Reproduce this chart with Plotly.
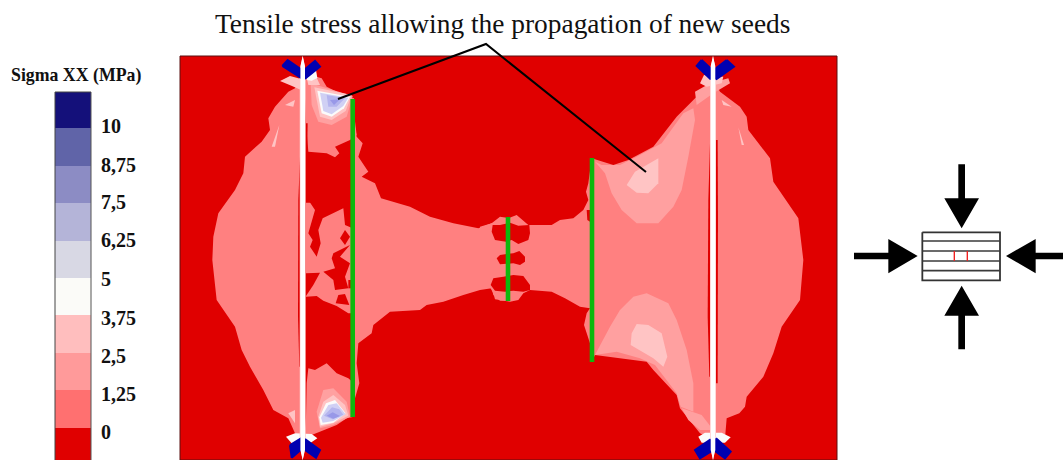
import plotly.graph_objects as go

# --- chart text and legend data ---
title_text = "Tensile stress allowing the propagation of new seeds"
legend_title = "Sigma XX (MPa)"
legend_labels = ["10", "8,75", "7,5", "6,25", "5", "3,75", "2,5", "1,25", "0"]
legend_label_y = [126, 165, 202, 240, 279, 318, 356, 394, 432]
legend_edges = [92, 128, 166, 203, 241, 278, 315, 353, 390, 428, 460]
legend_colors = ["#14107A", "#6064A8", "#8C8CC4", "#B4B4D8", "#D8D8E4",
                 "#FBFBF8", "#FFBEBE", "#FF9A9A", "#FF7070", "#E00000"]

RED = "#E00000"; L1 = "#FF8080"; L2 = "#FFA0A0"; L3 = "#FFC4C4"
WH = "#FBFBFB"; LAV = "#D0D0F4"; PER = "#B4B4EE"; BLU = "#9898E8"; DBL = "#0000B0"

# --- stress regions, left crop (x=180+u/3, y=50+v/3) ---
left_wing = [(368,60),(345,115),(325,125),(285,170),(265,205),(270,240),(245,275),(195,320),(190,370),(165,420),(115,490),(100,560),(97,630),(110,750),(165,830),(185,900),(210,950),(250,1020),(280,1080),(325,1105),(345,1150),(368,1170)]
top_lobe = [(372,70),(425,85),(440,110),(490,135),(522,145),(522,190),(530,255),(510,270),(465,290),(478,310),(465,322),(440,310),(385,305),(378,220)]
bot_lobe = [(385,955),(405,960),(440,940),(470,970),(505,985),(522,1000),(522,1100),(500,1105),(470,1125),(430,1140),(395,1155),(405,1170),(372,1170),(378,1100),(380,1000)]
mosaic = [(378,458),(518,458),(522,790),(505,790),(470,768),(430,752),(410,738),(378,740)]
shards = [
    [(385,450),(405,480),(385,550),(398,570),(390,590),(410,620),(422,580),(415,540),(428,505),(490,475),(495,525),(518,535),(518,450)],
    [(480,565),(495,540),(510,560),(495,585)],
    [(460,610),(510,585),(480,620),(510,640),(495,680),(505,715),(465,720),(460,690),(430,665),(465,655),(455,625)],
    [(467,760),(475,735),(495,732),(508,765)],
    [(378,670),(420,668),(400,705),(378,738)],
    [(505,690),(518,690),(518,715),(505,715)],
]
top_l2 = [(392,100),(455,120),(518,138),(500,200),(455,225),(415,215),(395,165)]
top_l3 = [(403,112),(515,135),(497,183),(455,210),(420,200)]
top_wh = [(412,122),(510,140),(492,175),(455,200),(425,190)]
top_lv = [(420,128),(505,143),(490,168),(455,193),(430,183)]
top_pr = [(440,135),(495,145),(470,170),(445,170)]
top_bl = [(450,150),(480,148),(462,165)]
bot_l2 = [(410,1085),(430,1020),(460,1015),(500,1055),(510,1100),(460,1125),(420,1135)]
bot_l3 = [(415,1100),(430,1055),(460,1035),(495,1065),(505,1097),(460,1120),(420,1130)]
bot_wh = [(418,1102),(438,1060),(465,1050),(497,1090),(460,1118),(422,1125)]
bot_lv = [(423,1103),(445,1065),(470,1060),(497,1093),(460,1113),(428,1118)]
bot_pr = [(432,1097),(456,1072),(478,1078),(490,1094),(458,1108)]
bot_bl = [(440,1097),(458,1087),(480,1098),(460,1106)]
left_cap_top = [[(300,93),(330,78),(363,87),(363,120),(336,108)], [(378,72),(405,72),(420,105),(385,105)]]
left_cap_white = [(385,62),(408,60),(412,84),(395,92),(380,90)]
left_cap_bot = [(318,1160),(345,1150),(395,1152),(412,1165),(390,1180),(335,1180)]
left_streaks = [[(315,165),(345,150),(340,170)],[(298,225),(285,290),(275,290)],[(325,1090),(345,1080),(345,1120)]]
left_arms = [[(307,48),(323,30),(363,58),(363,84)],[(375,58),(405,33),(420,50),(375,86)],
             [(330,1185),(360,1167),(362,1200),(335,1223)],[(375,1167),(420,1200),(408,1223),(375,1200)]]
left_slivers = [[(362,270),(355,450),(354,800),(358,950),(362,950),(362,270)],[(375,220),(383,220),(380,400),(375,400)]]

# --- band joining the two inner cracks (left crop) ---
band_left = [(518,190),(530,260),(548,280),(535,320),(565,365),(545,380),(585,400),(603,445),(690,470),(750,500),(820,520),(895,535),(935,520),(960,500),(990,505),(990,752),(960,752),(940,735),(935,715),(900,720),(850,735),(790,755),(740,765),(720,780),(630,785),(580,825),(575,850),(535,880),(530,940),(538,1000),(525,1045),(518,1100)]

# --- stress regions, right crop (x=480+u/3, y=50+v/3) ---
band_right = [(0,530),(85,505),(110,495),(145,525),(215,525),(240,510),(280,505),(310,480),(325,450),(318,425),(325,400),(335,325),(335,935),(330,880),(312,825),(320,790),(330,775),(300,770),(255,745),(215,725),(150,720),(130,730),(115,750),(90,755),(60,750),(45,748),(40,730),(30,712),(0,718)]
center_holes = [
    [(38,525),(35,545),(45,570),(78,575),(95,570),(115,582),(145,570),(150,550),(148,525),(115,527),(90,518),(60,525)],
    [(50,625),(60,615),(80,612),(100,610),(118,603),(135,620),(135,635),(120,645),(100,640),(60,643)],
    [(32,705),(40,685),(70,680),(100,675),(130,678),(150,705),(150,720),(130,725),(100,722),(75,725),(45,722)],
    [(320,480),(330,480),(330,515),(322,510)],
]
right_body = [(335,325),(400,345),(445,330),(520,290),(590,200),(640,150),(690,100),(700,90),(720,125),(780,170),(800,200),(805,240),(870,325),(880,395),(955,505),(970,630),(960,750),(905,830),(880,910),(850,980),(800,1040),(795,1070),(778,1090),(740,1105),(735,1165),(700,1170),(660,1150),(620,1100),(600,1075),(590,1035),(520,960),(500,935),(345,915),(335,935)]
right_up_l2 = [(345,335),(365,345),(420,345),(470,320),(545,280),(610,190),(640,175),(645,210),(625,320),(605,420),(580,470),(535,520),(470,520),(425,480),(395,430),(375,370)]
right_up_l3 = [(440,405),(465,365),(535,325),(535,400),(505,430),(470,428)]
right_lo_l2 = [(345,915),(410,905),(480,925),(525,945),(590,1030),(602,1070),(640,1085),(640,1000),(620,900),(590,810),(565,760),(500,730),(460,740),(420,780),(390,830),(360,890)]
right_lo_l3 = [(470,822),(505,825),(545,850),(562,920),(550,950),(520,925),(452,885),(455,850)]
right_extra_l2 = [[(645,125),(690,100),(745,85),(750,100),(700,130),(650,165)],
                  [(605,1075),(665,1095),(700,1140),(660,1140),(625,1110)]]
right_cap_top = [(660,100),(672,75),(730,80),(725,100),(680,110)]
right_cap_bot = [(655,1160),(675,1148),(725,1148),(752,1162),(735,1178),(665,1178)]
right_streaks = [[(725,150),(755,170),(730,165)],[(775,232),(792,285),(785,285)]]
right_arms = [[(665,30),(692,55),(692,88),(650,48)],[(740,30),(762,50),(708,88),(708,55)],
              [(692,1168),(692,1205),(660,1225),(645,1200)],[(708,1165),(752,1205),(735,1225),(708,1205)]]
right_slivers = [[(690,280),(685,450),(683,800),(688,980),(695,980),(695,280)],[(707,270),(713,270),(714,500),(713,1000),(707,1000)]]

# --- overlays in page units ---
panel = [(180,56),(837,56),(837,460),(180,460)]
white_lines_x = [302.7, 713]
cracks = {"x": [352.7, 508, 592], "top": [99, 217, 158], "bottom": [417, 301, 362]}
leader_x = [338, 486, 646]
leader_y = [99, 44, 172]

# --- loading schematic (x=850+u/3, y=155+v/3) ---
s_box = [(217,232),(450,232),(450,376),(217,376)]
s_lines = [258, 288, 318, 347]
s_red = [313, 352]
s_arrows = [
    [(325,28),(345,28),(345,130),(387,130),(335,220),(283,130),(325,130)],
    [(325,583),(345,583),(345,482),(387,482),(335,392),(283,482),(325,482)],
    [(12,293),(12,313),(115,313),(115,355),(203,303),(115,252),(115,293)],
    [(639,293),(639,313),(557,313),(557,355),(468,303),(557,252),(557,293)],
]

L = lambda p: [(180 + u / 3, 50 + v / 3) for u, v in p]
R = lambda p: [(480 + u / 3, 50 + v / 3) for u, v in p]
S = lambda p: [(850 + u / 3, 155 + v / 3) for u, v in p]

fig = go.Figure()

def poly(pts, color, line=None, lw=0):
    xs = [p[0] for p in pts] + [pts[0][0]]
    ys = [p[1] for p in pts] + [pts[0][1]]
    fig.add_trace(go.Scatter(x=xs, y=ys, mode="lines", fill="toself", fillcolor=color,
                             line=dict(color=line or color, width=lw if line else 0),
                             hoverinfo="skip", showlegend=False))

def seg(xs, ys, color, w):
    fig.add_trace(go.Scatter(x=xs, y=ys, mode="lines", line=dict(color=color, width=w),
                             hoverinfo="skip", showlegend=False))

# legend bar
fig.add_trace(go.Bar(x=[73] * len(legend_colors),
                     y=[legend_edges[i + 1] - legend_edges[i] for i in range(len(legend_colors))],
                     base=legend_edges[:-1], width=36, marker=dict(color=legend_colors, line=dict(width=0)),
                     hoverinfo="skip", showlegend=False))
seg([55, 55], [92, 460], "#444444", 1)
seg([91, 91], [92, 460], "#555555", 1)
seg([55, 91], [92, 92], "#444444", 1)

poly(panel, RED, "#5A1010", 1)
for p, c in [(L(left_wing), L1), (L(top_lobe), L1), (L(bot_lobe), L1), (L(mosaic), L1),
             (L(band_left), L1), (R(band_right), L1), (R(right_body), L1)]:
    poly(p, c)
for s in shards:
    poly(L(s), RED)
for s in center_holes:
    poly(R(s), RED)
for p, c in [(L(top_l2), L2), (L(top_l3), L3), (L(top_wh), WH), (L(top_lv), LAV), (L(top_pr), PER), (L(top_bl), BLU),
             (L(bot_l2), L2), (L(bot_l3), L3), (L(bot_wh), WH), (L(bot_lv), LAV), (L(bot_pr), PER), (L(bot_bl), BLU),
             (R(right_up_l2), L2), (R(right_up_l3), L3), (R(right_lo_l2), L2), (R(right_lo_l3), L3)]:
    poly(p, c)
for s in right_extra_l2:
    poly(R(s), L2)
for s in left_streaks:
    poly(L(s), L3)
for s in right_streaks:
    poly(R(s), L3)
for s in left_cap_top:
    poly(L(s), L3)
poly(L(left_cap_white), WH)
poly(L(left_cap_bot), WH)
poly(R(right_cap_top), L3); poly(R(right_cap_bot), WH)
for s in left_slivers:
    poly(L(s), RED)
for s in right_slivers:
    poly(R(s), RED)
for x in white_lines_x:
    poly([(x, 56), (x + 3, 72), (x + 3, 444), (x, 460), (x - 3, 444), (x - 3, 72)], "#FFC8C8")
for s in left_arms:
    poly(L(s), DBL, DBL, 2)
for s in right_arms:
    poly(R(s), DBL, DBL, 2)
for x in white_lines_x:
    poly([(x, 56), (x + 2.3, 66), (x + 2.3, 450), (x, 460), (x - 2.3, 450), (x - 2.3, 66)], "#FFFFFF")
for x, t, b in zip(cracks["x"], cracks["top"], cracks["bottom"]):
    seg([x, x], [t, b], "#0DB80D", 4.6)
seg(leader_x, leader_y, "#000000", 2)

# schematic
poly(S(s_box), "#FFFFFF", "#333333", 1.8)
for v in s_lines:
    pts = S([(217, v), (450, v)])
    seg([pts[0][0], pts[1][0]], [pts[0][1], pts[1][1]], "#3A3A3A", 1.7)
for u in s_red:
    pts = S([(u, 288), (u, 318)])
    seg([pts[0][0], pts[1][0]], [pts[0][1], pts[1][1]], "#F02020", 1.4)
for a in s_arrows:
    poly(S(a), "#000000")

serif = "Liberation Serif"
anns = [dict(x=502, y=24, text=title_text, font=dict(family=serif, size=27.4, color="#111111"),
             xanchor="center", yanchor="middle", showarrow=False),
        dict(x=76, y=75, text="<b>%s</b>" % legend_title, font=dict(family=serif, size=17.8, color="#111111"),
             xanchor="center", yanchor="middle", showarrow=False)]
for lab, y in zip(legend_labels, legend_label_y):
    anns.append(dict(x=99, y=y, text="<b>%s</b>" % lab, font=dict(family=serif, size=20, color="#111111"),
                     xanchor="left", yanchor="middle", showarrow=False))

fig.update_layout(width=1063, height=460, margin=dict(l=0, r=0, t=0, b=0),
                  paper_bgcolor="#FFFFFF", plot_bgcolor="#FFFFFF", showlegend=False,
                  barmode="overlay", annotations=anns,
                  xaxis=dict(range=[0, 1063], visible=False, fixedrange=True),
                  yaxis=dict(range=[460, 0], visible=False, fixedrange=True))
fig.write_html("out.html", config={"displayModeBar": False},
               post_script="document.body.style.margin='0';")
